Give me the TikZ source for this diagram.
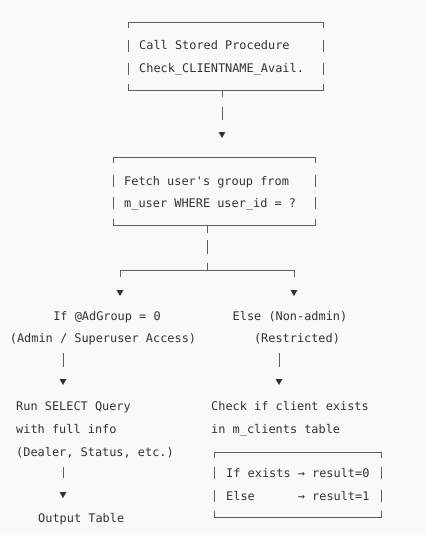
\documentclass[tikz,border=0pt]{standalone}
\usepackage{fontspec}
\setmonofont{DejaVu Sans Mono}
\usetikzlibrary{shapes.geometric}
\definecolor{bgc}{RGB}{249,249,249}
\definecolor{txc}{RGB}{51,51,51}
\definecolor{lnc}{RGB}{95,95,95}
\newcommand\asciibox[6]{%
  \node[inner sep=0pt, minimum width={#4-#2}, minimum height={#5-#3}] (#1) at ({(#2+#4)/2},{(#3+#5)/2}) {};
  \draw[frame] (#2,#3+6) -- (#2,#3) -- (#4,#3) -- (#4,#3+6);
  \draw[frame] (#2,#5-6) -- (#2,#5) -- (#4,#5) -- (#4,#5-6);
  \foreach \ly in {#6} {\draw[frame] (#2,\ly-6) -- (#2,\ly+6); \draw[frame] (#4,\ly-6) -- (#4,\ly+6);}
}
\begin{document}
\begin{tikzpicture}[x=1pt,y=-1pt,
  frame/.style={draw=lnc, line width=0.7pt},
  conn/.style={draw=lnc, line width=0.7pt},
  txt/.style={inner sep=0pt, text=txc, font=\ttfamily\fontsize{11.9}{23}\selectfont},
  downtip/.style={fill=txc, draw=none, regular polygon, regular polygon sides=3, shape border rotate=180, minimum size=8pt, inner sep=0pt}]
\fill[bgc] (0,0) rectangle (426,535);
\useasboundingbox (0,0) rectangle (426,535);

% box 1
\asciibox{b1}{128}{22}{323}{90}{46,69}
\node[txt, anchor=base west] (t11) at (139,50) {Call Stored Procedure};
\node[txt, anchor=base west] (t12) at (139,73) {Check\_CLIENTNAME\_Avail.};
\node[downtip] (a1) at (222,134) {};
\draw[conn, dash pattern=on 7pt off 10pt on 20pt, shorten >=12pt] (a1 |- b1.south) -- (a1.north);

% box 2
\asciibox{b2}{113}{157}{315}{225}{181,203}
\node[txt, anchor=base west] (t21) at (124,185) {Fetch user's group from};
\node[txt, anchor=base west] (t22) at (124,207) {m\_user WHERE user\_id = ?};
\coordinate (j) at (207,270);
\node[downtip] (a2) at (120,292) {};
\node[downtip] (a3) at (294,292) {};
\draw[conn, dash pattern=on 8pt off 7pt on 14pt off 9pt on 10pt] (j |- b2.south) -- (j);
\draw[conn, shorten >=13pt] (j) -| (a2.north);
\draw[conn, shorten >=13pt] (j) -| (a3.north);

% branch labels
\node[txt, anchor=base] (l1) at (107,320) {If @AdGroup = 0};
\node[txt, anchor=base] (l2) at (103,342) {(Admin / Superuser Access)};
\node[txt, anchor=base] (r1) at (290,320) {Else (Non-admin)};
\node[txt, anchor=base] (r2) at (297,342) {(Restricted)};

\coordinate (s4) at (63,353);
\coordinate (s5) at (279,353);
\node[downtip] (a4) at (63,381) {};
\node[downtip] (a5) at (279,381) {};
\draw[conn, shorten >=12pt] (s4) -- (a4.north);
\draw[conn, shorten >=12pt] (s5) -- (a5.north);

% left column
\node[txt, anchor=base west] (q1) at (16,410) {Run SELECT Query};
\node[txt, anchor=base west] (q2) at (16,433) {with full info};
\node[txt, anchor=base west] (q3) at (16,456) {(Dealer, Status, etc.)};
\coordinate (s6) at (63,467);
\node[downtip] (a6) at (63,494) {};
\draw[conn, shorten >=14pt] (s6) -- (a6.north);
\node[txt, anchor=base west] (out) at (38,522) {Output Table};

% right column
\node[txt, anchor=base west] (c1) at (211,410) {Check if client exists};
\node[txt, anchor=base west] (c2) at (211,433) {in m\_clients table};
\asciibox{b3}{214}{452}{381}{517}{473,496}
\node[txt, anchor=base west] (e1) at (226,477) {If exists → result=0};
\node[txt, anchor=base west] (e2) at (226,500) {\rlap{Else}\phantom{If exists} → result=1};
\end{tikzpicture}
\end{document}
